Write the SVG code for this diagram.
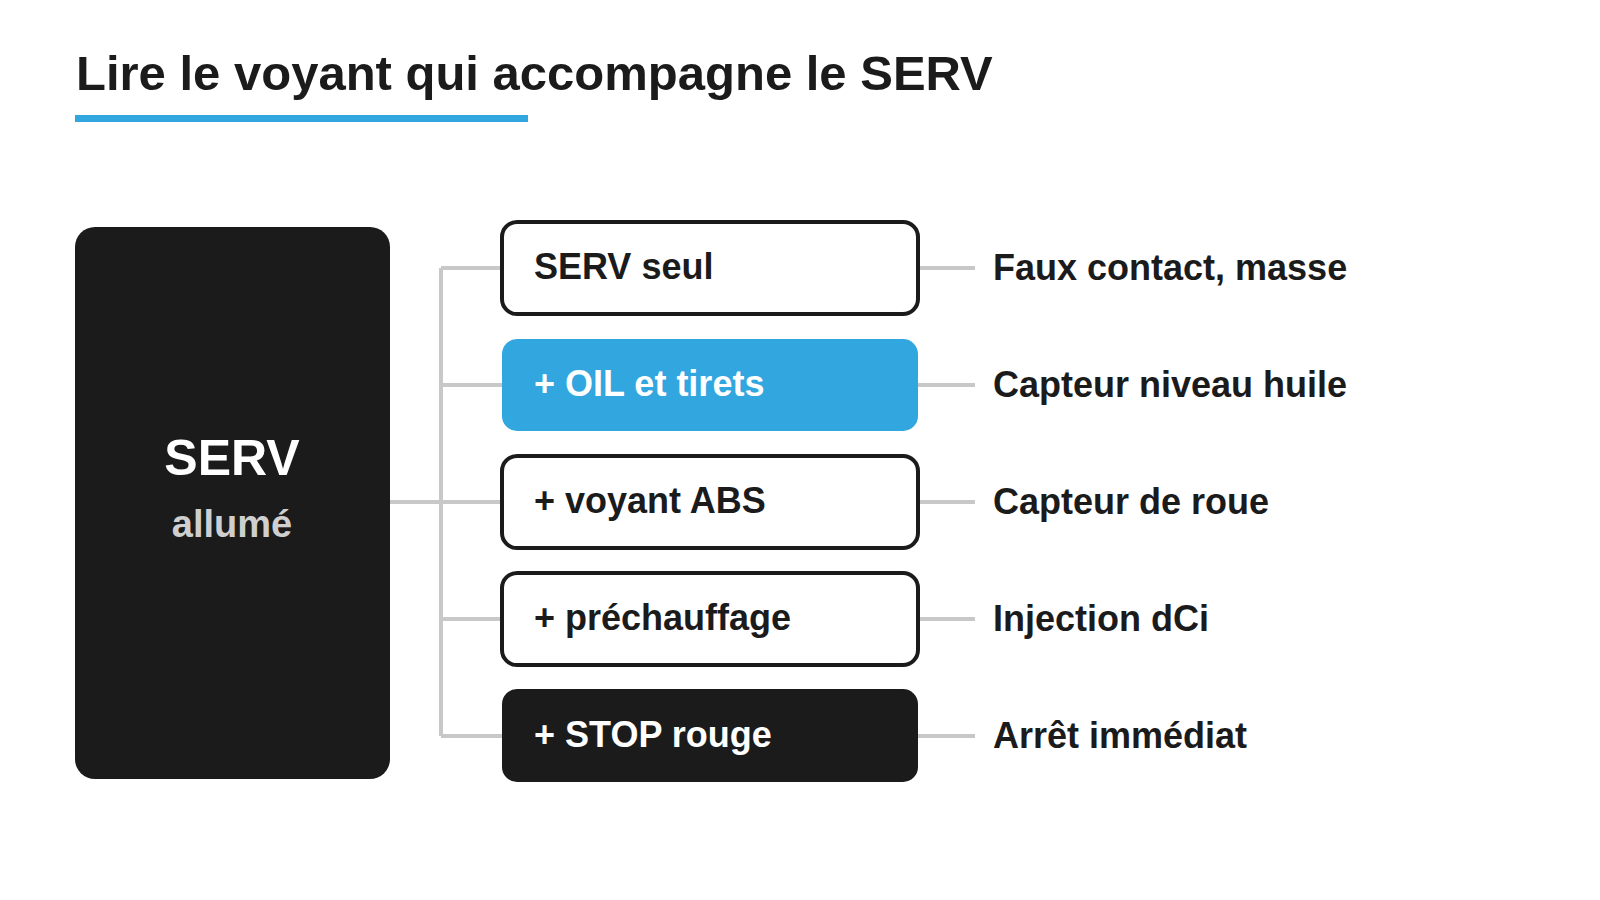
<svg xmlns="http://www.w3.org/2000/svg" width="1600" height="900" viewBox="0 0 1600 900">
<style>
text{font-family:"Liberation Sans",Arial,sans-serif;font-weight:bold}
.c{stroke:#c8c8c8;stroke-width:4;fill:none}
.b{fill:#fff;stroke:#1b1b1b;stroke-width:4}
.t{font-size:36px;fill:#1b1b1b}
.w{font-size:36px;fill:#fff}
</style>
<rect width="1600" height="900" fill="#fff"/>
<g id="title"><text x="76" y="90" font-size="49" fill="#1b1b1b">Lire le voyant qui accompagne le SERV</text>
<rect x="75" y="115" width="453" height="7" fill="#32a6df"/></g>
<g id="connectors">
<path class="c" d="M390 502H441M441 268V736M441 268H502M441 385H502M441 502H502M441 619H502M441 736H502"/>
<path class="c" d="M918 268H975M918 385H975M918 502H975M918 619H975M918 736H975"/>
</g>
<g id="serv"><rect x="75" y="227" width="315" height="552" rx="20" fill="#1b1b1b"/>
<text x="232" y="475" text-anchor="middle" font-size="50" fill="#fff">SERV</text>
<text x="232" y="537" text-anchor="middle" font-size="38" fill="#cfcfcf">allumé</text></g>
<g id="n1"><rect class="b" x="502" y="222" width="416" height="92" rx="15"/><text class="t" x="534" y="279">SERV seul</text></g>
<g id="n2"><rect x="502" y="339" width="416" height="92" rx="15" fill="#32a6df"/><text class="w" x="534" y="396">+ OIL et tirets</text></g>
<g id="n3"><rect class="b" x="502" y="456" width="416" height="92" rx="15"/><text class="t" x="534" y="513">+ voyant ABS</text></g>
<g id="n4"><rect class="b" x="502" y="573" width="416" height="92" rx="15"/><text class="t" x="534" y="630">+ préchauffage</text></g>
<g id="n5"><rect x="502" y="689" width="416" height="93" rx="15" fill="#1b1b1b"/><text class="w" x="534" y="747">+ STOP rouge</text></g>
<g id="labels">
<text class="t" x="993" y="280">Faux contact, masse</text>
<text class="t" x="993" y="397">Capteur niveau huile</text>
<text class="t" x="993" y="514">Capteur de roue</text>
<text class="t" x="993" y="631">Injection dCi</text>
<text class="t" x="993" y="748">Arrêt immédiat</text>
</g>
</svg>
